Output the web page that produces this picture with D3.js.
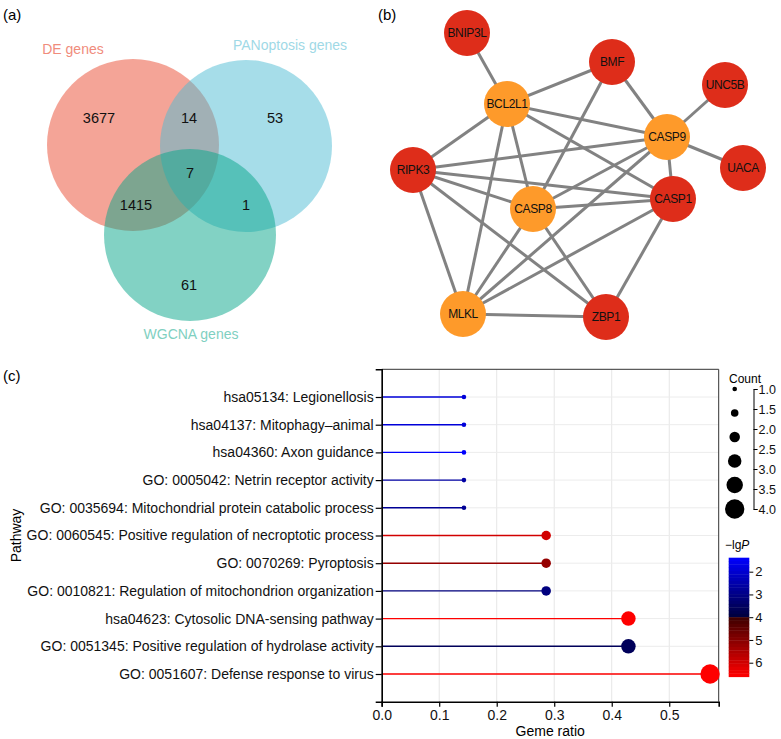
<!DOCTYPE html>
<html>
<head>
<meta charset="utf-8">
<script src="https://cdn.jsdelivr.net/npm/d3@7"></script>
<style>
  body { margin: 0; background: #fff; }
  text { font-family: "Liberation Sans", Arial, sans-serif; }
</style>
</head>
<body>
<div id="fig"></div>
<script>
var width = 781,
    height = 739;

// venn (a)
var vennSets = ["DE genes", "PANoptosis genes", "WGCNA genes"];
var vennRegions = ["DE", "PAN", "WGCNA", "DE&PAN", "DE&WGCNA", "PAN&WGCNA", "DE&PAN&WGCNA"];
var vennCounts = [3677, 53, 61, 14, 1415, 1, 7];

// network (b)
var nodeNames = ["BNIP3L", "BMF", "UNC5B", "BCL2L1", "CASP9", "UACA", "RIPK3", "CASP1", "CASP8", "MLKL", "ZBP1"];
var hubNodes = ["BCL2L1", "CASP9", "CASP8", "MLKL"];
var edges = [
  ["BNIP3L", "BCL2L1"], ["BCL2L1", "BMF"], ["BCL2L1", "CASP9"], ["BCL2L1", "RIPK3"],
  ["BCL2L1", "CASP8"], ["BCL2L1", "MLKL"], ["BCL2L1", "CASP1"], ["BMF", "CASP9"],
  ["BMF", "CASP8"], ["UNC5B", "CASP9"], ["CASP9", "UACA"], ["CASP9", "RIPK3"],
  ["CASP9", "CASP1"], ["CASP9", "CASP8"], ["CASP9", "MLKL"], ["RIPK3", "CASP1"],
  ["RIPK3", "CASP8"], ["RIPK3", "MLKL"], ["RIPK3", "ZBP1"], ["CASP8", "CASP1"],
  ["CASP8", "MLKL"], ["CASP8", "ZBP1"], ["CASP1", "MLKL"], ["CASP1", "ZBP1"], ["MLKL", "ZBP1"]
];

// lollipop (c)
var pathways = [
  "hsa05134: Legionellosis",
  "hsa04137: Mitophagy\u2013animal",
  "hsa04360: Axon guidance",
  "GO: 0005042: Netrin receptor activity",
  "GO: 0035694: Mitochondrial protein catabolic process",
  "GO: 0060545: Positive regulation of necroptotic process",
  "GO: 0070269: Pyroptosis",
  "GO: 0010821: Regulation of mitochondrion organization",
  "hsa04623: Cytosolic DNA-sensing pathway",
  "GO: 0051345: Positive regulation of hydrolase activity",
  "GO: 0051607: Defense response to virus"
];
var geneRatio = [0.143, 0.143, 0.143, 0.143, 0.143, 0.286, 0.286, 0.286, 0.429, 0.429, 0.571];
var counts = [1, 1, 1, 1, 1, 2, 2, 2, 3, 3, 4];
var lgP = [1.9, 1.9, 1.4, 2.6, 2.8, 6.0, 5.2, 3.1, 6.6, 3.6, 6.6];
var xTicks = [0, 0.1, 0.2, 0.3, 0.4, 0.5];
var countTicks = [1.0, 1.5, 2.0, 2.5, 3.0, 3.5, 4.0];
var lgPTicks = [2, 3, 4, 5, 6];

var svg = d3.select("#fig").append("svg")
    .attr("width", width)
    .attr("height", height);

function panelLabel(t, x, y) {
  svg.append("text").attr("x", x).attr("y", y)
      .style("font-size", "15px").text(t);
}
panelLabel("(a)", 3, 20);
panelLabel("(b)", 378, 20);
panelLabel("(c)", 3, 381);

// ---------- (a) venn ----------
var vennR = 86;
var vennCircles = [
  {cx: 133, cy: 145, fill: "#e9492f", label: "#f08c7c"},
  {cx: 246, cy: 146, fill: "#4dbbd3", label: "#9fd9e6"},
  {cx: 190, cy: 235, fill: "#05a589", label: "#7fd0c1"}
];
var venn = svg.append("g");
venn.selectAll("circle")
    .data(vennCircles)
  .enter().append("circle")
    .attr("cx", function(d) { return d.cx; })
    .attr("cy", function(d) { return d.cy; })
    .attr("r", vennR)
    .style("fill", function(d) { return d.fill; })
    .style("fill-opacity", 0.5);

var setLabelPos = [[73, 54], [290, 50], [191, 339]];
venn.selectAll("text.set")
    .data(vennSets)
  .enter().append("text")
    .attr("class", "set")
    .attr("x", function(d, i) { return setLabelPos[i][0]; })
    .attr("y", function(d, i) { return setLabelPos[i][1]; })
    .attr("text-anchor", "middle")
    .style("font-size", "14px")
    .style("fill", function(d, i) { return vennCircles[i].label; })
    .text(function(d) { return d; });

var regionPos = {
  "DE": [99, 123], "PAN": [275, 123], "WGCNA": [189, 290],
  "DE&PAN": [189, 123], "DE&WGCNA": [136, 210], "PAN&WGCNA": [246, 210], "DE&PAN&WGCNA": [190, 178]
};
venn.selectAll("text.num")
    .data(vennRegions)
  .enter().append("text")
    .attr("class", "num")
    .attr("x", function(d) { return regionPos[d][0]; })
    .attr("y", function(d) { return regionPos[d][1]; })
    .attr("text-anchor", "middle")
    .style("font-size", "14.5px")
    .style("fill", "#111")
    .text(function(d, i) { return vennCounts[i]; });

// ---------- (b) network ----------
var nodePos = {
  BNIP3L: [467, 33], BMF: [612, 62], UNC5B: [725, 85], BCL2L1: [507, 104],
  CASP9: [667, 137], UACA: [743, 168], RIPK3: [413, 170], CASP1: [673, 199],
  CASP8: [533, 209], MLKL: [463, 314], ZBP1: [606, 317]
};
var net = svg.append("g");
net.selectAll("line")
    .data(edges)
  .enter().append("line")
    .attr("x1", function(d) { return nodePos[d[0]][0]; })
    .attr("y1", function(d) { return nodePos[d[0]][1]; })
    .attr("x2", function(d) { return nodePos[d[1]][0]; })
    .attr("y2", function(d) { return nodePos[d[1]][1]; })
    .style("stroke", "#828282")
    .style("stroke-width", 3);

var node = net.selectAll("g.node")
    .data(nodeNames)
  .enter().append("g")
    .attr("transform", function(d) { return "translate(" + nodePos[d] + ")"; });
node.append("circle")
    .attr("r", 23)
    .style("fill", function(d) { return hubNodes.indexOf(d) >= 0 ? "#fe9a2a" : "#de2d1a"; });
node.append("text")
    .attr("text-anchor", "middle")
    .attr("dy", "0.36em")
    .style("font-size", "12px")
    .style("letter-spacing", "-0.4px")
    .style("fill", "#111")
    .text(function(d) { return d; });

// ---------- (c) lollipop ----------
var pLeft = 381.7, pRight = 718.7, pTop = 369.3, pBottom = 701.7;

var x = d3.scaleLinear().domain([0, 0.586]).range([pLeft, pRight]);
var y = d3.scalePoint().domain(pathways).range([pTop, pBottom]).padding(1);
var r = d3.scaleLinear().domain([1, 4]).range([2.3, 9.7]);
var color = d3.scaleLinear()
    .domain([1.385, 4, 4, 6.615])
    .range(["#0000ff", "#00003c", "#3c0000", "#ff0000"]);

var plot = svg.append("g");

plot.append("g").selectAll("line")
    .data(xTicks)
  .enter().append("line")
    .attr("x1", function(d) { return x(d); })
    .attr("x2", function(d) { return x(d); })
    .attr("y1", pTop).attr("y2", pBottom)
    .style("stroke", "#e6e6e6").style("stroke-width", 1);
plot.append("g").selectAll("line")
    .data(pathways)
  .enter().append("line")
    .attr("x1", pLeft).attr("x2", pRight)
    .attr("y1", function(d) { return y(d); })
    .attr("y2", function(d) { return y(d); })
    .style("stroke", "#ececec").style("stroke-width", 1);

plot.append("path")
    .attr("d", "M" + pLeft + "," + pTop + "H" + pRight + "V" + pBottom)
    .style("fill", "none").style("stroke", "#333").style("stroke-width", 1);

plot.append("g").selectAll("line")
    .data(pathways)
  .enter().append("line")
    .attr("x1", pLeft)
    .attr("x2", function(d, i) { return x(geneRatio[i]); })
    .attr("y1", function(d) { return y(d); })
    .attr("y2", function(d) { return y(d); })
    .style("stroke", function(d, i) { return color(lgP[i]); })
    .style("stroke-width", 1.4);

plot.append("g").selectAll("circle")
    .data(pathways)
  .enter().append("circle")
    .attr("cx", function(d, i) { return x(geneRatio[i]); })
    .attr("cy", function(d) { return y(d); })
    .attr("r", function(d, i) { return r(counts[i]); })
    .style("fill", function(d, i) { return color(lgP[i]); });

var xAxis = plot.append("g")
    .attr("transform", "translate(0," + pBottom + ")")
    .call(d3.axisBottom(x).tickValues(xTicks).tickFormat(d3.format(".1f")).tickSize(5).tickSizeOuter(5));
var yAxis = plot.append("g")
    .attr("transform", "translate(" + pLeft + ",0)")
    .call(d3.axisLeft(y).tickSize(6).tickSizeOuter(6).tickPadding(2));
[xAxis, yAxis].forEach(function(a) {
  a.select(".domain").style("stroke", "#000").style("stroke-width", 1.6);
  a.selectAll(".tick line").style("stroke", "#000").style("stroke-width", 1.2);
  a.selectAll("text").style("font-family", "Liberation Sans, Arial, sans-serif")
      .style("font-size", "14px").style("fill", "#111");
});
xAxis.selectAll("text").attr("dy", "0.72em");

svg.append("text")
    .attr("x", (pLeft + pRight) / 2).attr("y", 736)
    .attr("text-anchor", "middle")
    .style("font-size", "14px")
    .text("Geme ratio");
svg.append("text")
    .attr("transform", "translate(21," + (pTop + pBottom) / 2 + ")rotate(-90)")
    .attr("text-anchor", "middle")
    .style("font-size", "14px")
    .text("Pathway");

// size legend
var legendVals = d3.range(6).map(function(i) { return 1 + i * 0.6; });
var ly = d3.scaleLinear().domain([1, 4]).range([389, 509]);
svg.append("text").attr("x", 729).attr("y", 383).style("font-size", "12px").text("Count");
svg.append("g").selectAll("circle")
    .data(legendVals)
  .enter().append("circle")
    .attr("cx", 734.7)
    .attr("cy", function(d) { return ly(d); })
    .attr("r", function(d) { return r(d); })
    .style("fill", "#000");
var ca = svg.append("g")
    .attr("transform", "translate(753.5,0)")
    .call(d3.axisRight(ly).tickValues(countTicks).tickFormat(d3.format(".1f")).tickSize(4).tickSizeOuter(4).tickPadding(1));
ca.select(".domain").style("stroke", "#000");
ca.selectAll("text").style("font-family", "Liberation Sans, Arial, sans-serif").style("font-size", "12.5px").style("fill", "#111");

// colour bar
var cy = d3.scaleLinear().domain([1.385, 6.615]).range([557.7, 676.7]);
var lab = svg.append("text").attr("x", 725).attr("y", 549).style("font-size", "12px");
lab.append("tspan").text("\u2212lg");
lab.append("tspan").style("font-style", "italic").text("P");
var nbin = 36;
var bins = d3.range(nbin).map(function(i) { return 1.385 + (i + 0.5) * (6.615 - 1.385) / nbin; });
var bh = (676.7 - 557.7) / nbin;
svg.append("g").selectAll("rect")
    .data(bins)
  .enter().append("rect")
    .attr("x", 728.7)
    .attr("y", function(d) { return cy(d) - bh / 2; })
    .attr("width", 20.6)
    .attr("height", bh + 0.4)
    .style("fill", function(d) { return color(d); });
var cb = svg.append("g")
    .attr("transform", "translate(749.3,0)")
    .call(d3.axisRight(cy).tickValues(lgPTicks).tickFormat(d3.format("d")).tickSize(4).tickSizeOuter(0).tickPadding(2));
cb.select(".domain").remove();
cb.selectAll(".tick line").style("stroke", "#000");
cb.selectAll("text").style("font-family", "Liberation Sans, Arial, sans-serif").style("font-size", "13px").style("fill", "#111");
</script>
</body>
</html>
